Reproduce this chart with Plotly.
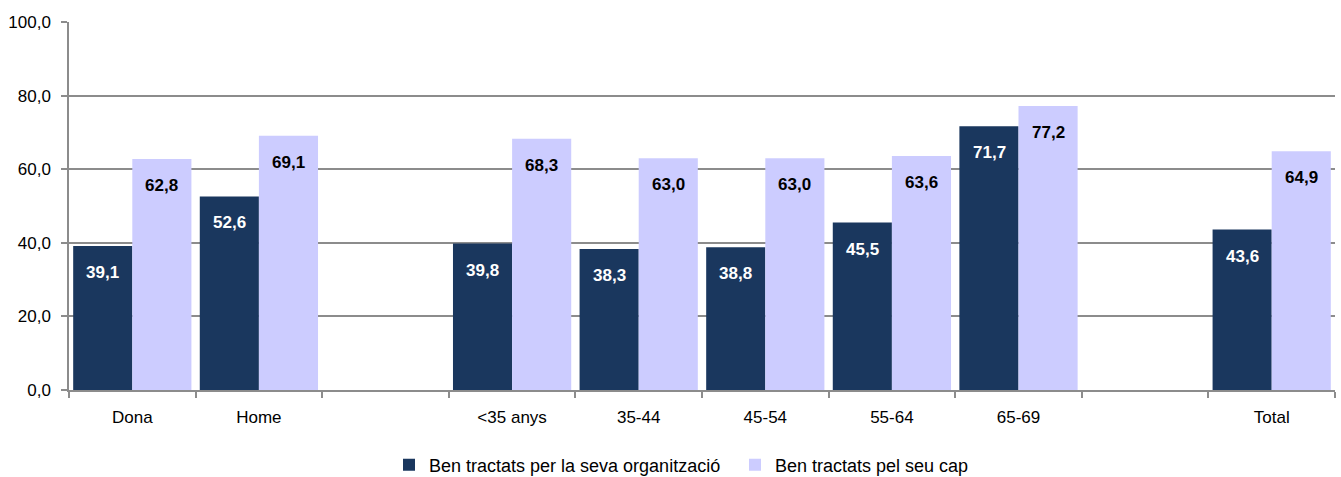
import plotly.graph_objects as go

# Categories (blank slots separate the sex, age and total groups)
categories = ["Dona", "Home", " ", "<35 anys", "35-44", "45-54", "55-64", "65-69", "  ", "Total"]
organitzacio = [39.1, 52.6, None, 39.8, 38.3, 38.8, 45.5, 71.7, None, 43.6]
cap = [62.8, 69.1, None, 68.3, 63.0, 63.0, 63.6, 77.2, None, 64.9]
series_names = ["Ben tractats per la seva organització", "Ben tractats pel seu cap"]
y_ticks = [0, 20, 40, 60, 80, 100]

DARK = "#1a375e"
LIGHT = "#ccccff"
GRID = "#8c8c8c"
FONT = "Liberation Sans, Arial, sans-serif"

fig = go.Figure()
fig.add_trace(go.Bar(x=categories, y=organitzacio, name=series_names[0],
                     marker=dict(color=DARK, line=dict(width=0))))
fig.add_trace(go.Bar(x=categories, y=cap, name=series_names[1],
                     marker=dict(color=LIGHT, line=dict(width=0))))

# Value labels just inside the top of each bar
half_bar = 29.5
for vals, dx, col in [(organitzacio, -half_bar, "white"), (cap, half_bar, "black")]:
    for c, v in zip(categories, vals):
        if v is None:
            continue
        fig.add_annotation(x=c, y=v, text=f"{v:.1f}".replace(".", ","),
                           showarrow=False, xshift=dx, yanchor="top", yshift=-15,
                           font=dict(family=FONT, size=17, color=col, weight="bold"))

fig.update_layout(
    width=1341, height=477,
    margin=dict(l=69, r=6, t=22, b=87, autoexpand=False),
    paper_bgcolor="white", plot_bgcolor="white",
    barmode="group", bargap=0.066, bargroupgap=0,
    separators=",.",
    font=dict(family=FONT, size=17, color="black"),
    showlegend=True,
    legend=dict(orientation="h", x=(389 - 69) / 1266, xanchor="left", y=-0.204,
                yanchor="middle", font=dict(family=FONT, size=18), itemwidth=30,
                entrywidth=301, entrywidthmode="pixels", tracegroupgap=0,
                bgcolor="rgba(0,0,0,0)"),
    xaxis=dict(type="category", tickson="boundaries", ticks="outside", ticklen=6,
               tickcolor=GRID, tickwidth=1.5, showline=True, linecolor=GRID, linewidth=1.5,
               showgrid=False, ticklabelstandoff=11, tickfont=dict(family=FONT, size=17)),
    yaxis=dict(range=[0, 100], tickvals=y_ticks, tickformat=".1f", ticks="outside",
               ticklen=6, tickcolor=GRID, tickwidth=1.5, showline=True, linecolor=GRID,
               linewidth=1.5, showgrid=True, gridcolor=GRID, gridwidth=1.5,
               zeroline=False, ticklabelstandoff=7, tickfont=dict(family=FONT, size=17)),
)

fig.write_html("out.html")
